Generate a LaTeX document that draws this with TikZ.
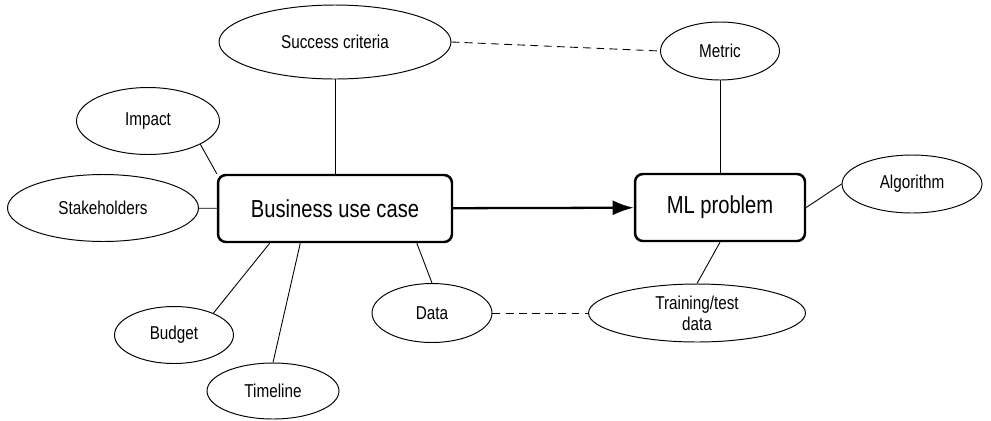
\documentclass[tikz,border=0pt]{standalone}
\usepackage{fontspec}
\setmainfont{Liberation Sans}[FakeStretch=0.82]
\usepackage{tikz}
\usetikzlibrary{calc}
\usetikzlibrary{arrows.meta}
\usetikzlibrary{shapes}
\usetikzlibrary{positioning}
\usetikzlibrary{shapes.geometric}

\begin{document}
\begin{tikzpicture}[x=0.02cm, y=-0.02cm,
  topic/.style={ellipse, draw=black, line width=0.55pt, inner sep=0pt, align=center, font=\fontsize{10.6}{12}\selectfont},
  mainbox/.style={rectangle, rounded corners=4.5pt, draw=black, line width=1.4pt, inner sep=0pt, font=\fontsize{14}{16}\selectfont},
  link/.style={draw=black, line width=0.5pt},
  dashlink/.style={draw=black, line width=0.5pt, dash pattern=on 4.5pt off 3pt}]
\useasboundingbox (0,0) rectangle (991,420);
\node [mainbox, minimum width=4.68cm, minimum height=1.34cm] (B) at (335,208.5) {Business use case};
\node [mainbox, minimum width=3.4cm, minimum height=1.34cm] (M) at (720,207.5) {ML problem};
\node [topic, minimum width=4.64cm, minimum height=1.48cm] (SC) at (335,42) {Success criteria};
\node [topic, minimum width=2.86cm, minimum height=1.34cm] (I) at (148,121) {Impact};
\node [topic, minimum width=3.82cm, minimum height=1.34cm] (SH) at (103,208) {Stakeholders};
\node [topic, minimum width=2.38cm, minimum height=1.14cm] (BU) at (174,335) {Budget};
\node [topic, minimum width=2.64cm, minimum height=1.12cm] (T) at (273,391) {Timeline};
\node [topic, minimum width=2.4cm, minimum height=1.18cm] (D) at (432,313) {Data};
\node [topic, minimum width=2.38cm, minimum height=1.16cm] (ME) at (720,51) {Metric};
\node [topic, minimum width=2.8cm, minimum height=1.16cm] (AL) at (912,184) {Algorithm};
\node [topic, minimum width=4.34cm, minimum height=1.16cm] (TD) at (697,313) {Training/test\\data};
\draw [link] (SC) to (B);
\draw [link] (I.-24) to (B.north west);
\draw [link] (SH) to (B);
\draw [link] (BU.29) to (B.-152);
\draw [link] (T.north) to (B.-135);
\draw [link] (D.north) to (B.-23);
\draw [link] (ME) to (M);
\draw [link] (M.east) to (AL.west);
\draw [link] (M.south) to (TD.north);
\draw [dashlink] (SC.east) to (ME.west);
\draw [dashlink] (D.east) to (TD.west);
\draw [-{Latex[length=12pt, width=8.5pt]}, draw=black, line width=1.3pt] (B) to (M);
\end{tikzpicture}
\end{document}
